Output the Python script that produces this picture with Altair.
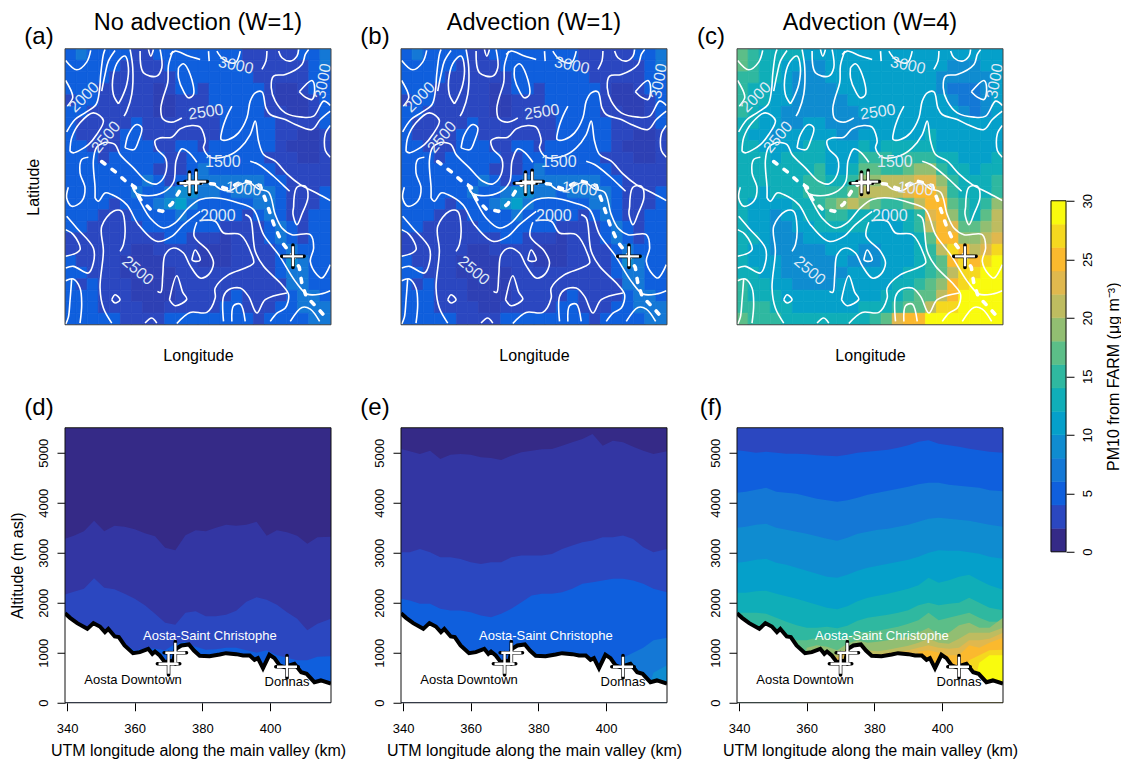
import altair as alt
import pandas as pd

FONT = "Liberation Sans"
TITLES = ["No advection (W=1)", "Advection (W=1)", "Advection (W=4)"]
THR = [1.5, 1.9, 2.5, 4, 6, 8, 10, 12, 14, 16, 18, 20, 22, 24, 26, 28]
COLS = ["#352A87", "#3336A3", "#2E40B4", "#2B47C0", "#0F5FDD", "#1478D6", "#0F8CD0", "#05A0CA", "#0FAEB8",
        "#2FB8A0", "#5CBE88", "#92BE72", "#BEBC60", "#E0B84E", "#FBB92E", "#F5D81F", "#F9FB0E"]
BAR_MID = [1, 3, 5, 7, 9, 11, 13, 15, 17, 19, 21, 23, 25, 27, 29]

GRID_A = [
 [5,7,5,5,5,5,3,3,5,5,5,5,5,5,5,5,3,3,3,3,3,5,5,7],
 [5,5,5,5,5,3,3,3,3,5,5,5,5,5,5,5,3,3,3,3,3,3,5,7],
 [5,5,5,5,3,3,3,3,3,3,5,5,5,5,5,5,5,3,3,3,3,3,5,5],
 [5,5,5,3,3,3,3,3,2,3,5,5,3,5,5,5,5,5,3,2,2,3,5,5],
 [3,5,5,3,3,3,3,3,2,2,3,3,3,5,5,5,5,5,3,2,2,2,3,5],
 [5,5,3,3,3,3,3,3,2,2,3,3,3,3,5,5,5,5,3,3,2,2,3,5],
 [5,3,3,3,3,3,5,3,3,3,3,3,3,3,5,5,5,5,5,3,3,3,3,5],
 [5,3,3,3,3,5,5,3,3,3,3,3,3,3,5,5,5,5,5,3,3,2,2,3],
 [5,5,3,3,3,5,5,5,3,3,5,5,3,5,5,5,5,5,5,3,2,2,2,3],
 [5,5,5,3,5,5,5,5,5,3,3,5,5,5,5,5,5,5,3,3,3,2,2,3],
 [5,5,5,5,5,5,5,5,3,3,3,5,7,5,5,5,5,5,5,3,3,3,3,3],
 [5,5,5,5,5,5,5,7,5,3,5,7,7,7,7,7,7,7,5,5,3,3,3,3],
 [5,5,5,5,5,5,7,5,5,7,9,9,7,7,5,7,7,7,7,5,3,3,3,5],
 [5,5,5,5,3,5,5,5,7,9,11,7,5,5,5,5,5,7,7,5,3,3,3,5],
 [5,5,5,3,3,3,5,5,5,5,7,5,5,5,5,5,3,5,7,5,3,3,5,5],
 [5,5,3,3,3,3,3,5,5,5,5,5,5,5,3,3,3,3,5,7,5,3,5,5],
 [3,3,3,3,3,3,3,3,3,5,5,3,3,3,2,3,3,3,5,7,5,3,5,5],
 [3,3,3,3,3,3,2,2,3,3,3,3,2,2,2,3,3,3,3,5,7,5,5,5],
 [5,3,3,3,3,2,2,2,2,3,3,3,2,2,2,3,3,3,3,5,9,7,5,5],
 [5,5,3,3,3,2,2,2,2,2,3,3,3,3,3,3,3,3,3,5,7,7,5,5],
 [5,3,5,3,3,3,2,2,2,2,3,3,3,3,3,3,3,3,3,3,7,7,5,5],
 [5,5,5,3,3,3,2,2,2,2,3,3,3,3,3,5,3,3,3,3,5,7,7,5],
 [5,5,5,3,3,3,3,2,2,3,3,3,3,3,5,5,3,3,3,5,5,7,7,7],
 [5,5,5,5,5,3,3,3,3,5,5,5,5,5,5,5,5,3,5,5,5,5,7,7],
]
GRID_C = [
 [17,15,13,13,13,12,11,11,11,11,11,11,11,11,11,11,11,11,10,10,10,11,11,11],
 [16,15,13,13,11,10,9,9,10,11,11,11,11,11,11,11,11,10,10,9,9,9,10,11],
 [15,14,13,12,11,9,9,9,10,10,11,11,11,11,11,11,11,10,9,8,8,9,9,10],
 [15,13,12,11,10,9,9,9,9,10,10,10,10,11,11,11,11,11,9,7,7,7,9,10],
 [14,13,12,10,10,9,9,9,9,9,10,10,10,10,11,11,11,11,10,8,7,7,8,10],
 [14,12,11,10,9,9,9,9,9,9,9,10,10,10,11,11,11,11,11,10,8,7,8,10],
 [13,12,10,10,9,9,10,10,9,9,9,9,10,10,11,11,11,11,11,11,10,10,10,11],
 [13,11,10,9,10,11,11,10,10,9,9,10,10,11,11,11,11,12,11,11,11,10,10,11],
 [13,12,11,10,11,11,12,12,10,10,11,12,11,12,12,12,13,12,11,11,11,10,10,11],
 [13,12,12,11,12,12,13,12,11,10,11,14,14,14,13,14,15,14,12,12,11,11,11,12],
 [12,12,12,12,12,13,13,14,11,11,13,16,17,15,15,16,19,18,15,13,12,11,12,13],
 [12,12,12,12,12,13,14,15,12,12,14,19,19,20,20,20,23,23,19,14,13,12,13,14],
 [13,12,11,12,13,13,14,15,15,15,17,20,20,20,20,23,24,25,21,15,13,12,13,15],
 [13,11,11,10,11,12,13,15,17,18,20,19,16,15,15,16,21,25,24,16,14,13,15,18],
 [13,11,10,9,10,11,12,13,14,14,13,13,12,11,12,12,15,23,25,19,14,13,16,20],
 [13,11,10,9,9,10,11,12,12,12,12,12,11,11,11,12,14,20,25,23,16,16,18,21],
 [13,12,10,9,9,9,10,10,10,11,11,10,10,10,11,11,12,16,24,25,19,18,20,23],
 [12,11,10,9,9,9,9,9,10,10,10,9,9,10,10,11,12,15,20,26,24,21,23,26],
 [13,11,11,10,9,9,9,9,9,10,9,9,9,10,11,11,12,14,17,24,26,24,26,28],
 [13,12,11,10,9,9,9,9,9,9,10,10,10,10,11,12,13,15,17,21,26,27,29,30],
 [14,13,12,11,10,9,9,9,9,10,10,10,11,11,12,13,15,16,18,24,26,29,30,30],
 [14,13,13,12,11,10,10,10,10,10,11,11,11,12,13,15,16,17,20,25,29,30,30,30],
 [15,14,14,13,12,11,11,10,11,11,11,12,12,13,15,17,17,20,26,27,30,30,30,30],
 [16,15,15,14,13,12,12,12,12,12,12,13,14,17,23,25,25,28,29,30,30,30,30,30],
]

# map coordinates (arbitrary map units)
MAP_X = [195, 992]
MAP_Y = [972, 145]
CONTOURS = [
 [(197,180),(230,208),(260,185),(272,150)],
 [(200,394),(225,357),(255,337),(288,312),(298,272),(302,222),(310,162),(315,147)],
 [(197,240),(215,275),(218,292),(202,317)],
 [(210,452),(215,412),(240,367),(280,337),(310,360),(290,402),(265,432),(220,457),(210,452)],
 [(355,310),(340,282),(340,222),(355,182),(375,167),(385,202),(380,252),(365,292),(355,310)],
 [(345,150),(325,182),(315,222),(305,272)],
 [(390,147),(398,202),(395,282),(380,332),(372,347)],
 [(420,152),(430,217),(470,227),(485,202),(480,147)],
 [(445,147),(452,167),(460,147)],
 [(375,442),(385,402),(410,372),(425,382),(415,422),(402,447),(375,442)],
 [(518,152),(505,195),(503,245),(488,295),(482,325),(488,355),(515,365),(545,352)],
 [(535,202),(550,190),(570,222),(580,282),(565,292),(550,272),(535,232),(535,202)],
 [(510,162),(525,152),(565,167),(600,177)],
 [(625,152),(627,182)],
 [(650,152),(670,177),(705,187),(720,152)],
 [(800,152),(797,182),(785,207)],
 [(835,152),(845,172),(870,182),(890,167),(895,147)],
 [(925,147),(915,162),(905,192),(855,222),(820,227),(813,262),(825,302),(855,337),(905,350),(940,347),(970,302),(990,315)],
 [(897,274),(935,240),(943,267),(935,297),(915,290),(897,274)],
 [(695,317),(680,347),(665,392),(663,417),(685,417),(715,397),(740,352),(750,302),(765,277),(785,274),(797,322),(810,342),(855,357),(885,372),(935,387),(960,357),(990,332)],
 [(315,425),(345,432),(360,462),(400,502),(440,542),(470,550),(495,522),(497,475),(470,445),(465,420),(480,412),(515,410),(540,385),(575,375),(600,380),(615,422),(610,442),(630,470),(685,465),(720,442),(750,402),(765,362),(775,422),(790,462),(825,482),(860,520),(900,552),(950,578),(990,600)],
 [(750,482),(775,492),(820,527),(850,555),(868,572)],
 [(640,550),(660,565),(690,570),(715,555),(745,545),(775,565),(805,575),(825,642),(845,682),(875,702),(930,702),(940,742),(930,782),(950,822),(965,832),(990,792)],
 [(395,548),(405,575),(435,585),(490,575),(520,545),(528,480),(545,445),(565,455),(590,485)],
 [(285,592),(295,602),(315,577),(335,582),(380,612),(415,672),(470,722),(515,707),(550,672),(600,632)],
 [(395,552),(420,602),(450,652),(490,682),(525,667),(565,622),(600,597),(650,592),(715,607),(760,627),(790,702),(835,762),(885,842),(920,880),(960,880),(990,870)],
 [(735,642),(750,652),(765,752),(790,797),(845,852),(865,882),(855,922),(830,937),(810,962)],
 [(472,872),(482,875),(488,822),(495,762),(520,742),(550,757),(570,795),(600,832),(625,822),(640,787),(625,752),(582,707),(590,665)],
 [(598,660),(645,662),(670,697),(720,702),(755,762),(760,787),(735,802),(685,822),(645,862),(645,892),(620,935),(570,935),(530,968)],
 [(670,962),(670,887),(685,867),(720,862),(745,887),(770,937),(795,897),(860,877)],
 [(695,962),(700,915),(720,910),(735,962)],
 [(870,962),(905,920),(930,925),(958,962)],
 [(880,620),(890,560),(915,557),(923,590),(905,640),(890,672),(878,640),(880,620)],
 [(990,375),(975,400),(975,450),(990,470)],
 [(200,647),(230,682),(280,742),(280,787),(265,817),(220,797),(197,802)],
 [(197,687),(220,702),(240,747),(197,767)],
 [(197,840),(220,835),(240,862),(245,912),(240,967)],
 [(215,835),(210,900),(205,950),(197,970)],
 [(360,752),(370,732),(375,682),(365,632),(340,632),(305,677),(310,752),(300,862),(310,922),(335,967)],
 [(335,897),(345,882),(360,897),(345,907),(335,897)],
 [(508,897),(530,825),(548,875),(560,895),(525,915),(508,897)],
 [(575,778),(585,748),(600,778),(585,782),(575,778)],
 [(435,967),(455,952),(470,967)],
 [(265,470),(245,477),(240,517),(255,562),(245,602),(215,617),(200,592),(205,560)],
 [(315,425),(290,440),(280,480),(285,560),(285,592)],
]
RIVER = [(305,483),(345,513),(375,540),(405,560),(420,595),(450,625),(487,632),(515,610),(545,560),
         (570,545),(640,550),(680,565),(730,540),(780,555),(800,610),(822,675),(845,725),(880,770),
         (897,800),(905,850),(918,888),(950,920),(985,960)]
MAP_STATIONS = [(568,548),(588,543),(878,767)]
MAP_LABELS = [("3000",707,195,12),("3000",968,242,-80),("2000",252,290,-45),("2500",318,410,-50),
              ("2500",617,335,-8),("1500",668,485,0),("1000",730,565,6),("2000",653,645,0),("2500",413,810,40)]

# altitude sections
XS = [339.4,342,345,348,351,354,357,360,363,366,369,372,375,378,381,384,387,390,393,396,399,402,405,408,411,414,418]
TOP = [5500]*27
D_2 = [3280,3340,3430,3640,3430,3540,3520,3470,3390,3330,3100,3050,3350,3450,3430,3500,3560,3540,3560,3620,3340,3450,3410,3340,3180,3310,3320]
D_3 = [2165,2220,2280,2490,2300,2270,2180,2080,1950,1780,1600,1560,1800,1830,1730,1730,1760,1840,2020,2110,2060,1960,1810,1680,1450,1580,1680]
D_5 = [1700,1600,1500,1580,1470,1350,1180,1040,1090,1080,1050,1180,1220,1120,1060,1070,1100,1100,1050,1000,1050,950,900,850,850,920,930]
E_2 = [5075,5028,4975,5041,4875,4961,4975,4961,4908,4895,4855,4942,5008,5041,5068,5075,5142,5208,5275,5375,5142,5242,5209,5122,5041,4975,5028]
E_3 = [3010,3010,3077,3010,2910,2910,2877,2810,2777,2810,2810,2910,2944,2944,2944,2977,3077,3143,3210,3243,3310,3310,3343,3277,3110,3010,3077]
E_5 = [2078,2045,1978,1978,1878,1845,1845,1811,1745,1712,1778,1878,2011,2145,2178,2178,2211,2278,2378,2411,2444,2478,2478,2444,2378,2278,2211]
E_7 = [0,0,0,0,0,0,0,0,0,0,0,0,0,0,0,0,0,0,0,0,0,0,900,1000,1100,1250,1300]
E_9 = [0,0,0,0,0,0,0,0,0,0,0,0,0,0,0,0,0,0,0,0,0,0,0,0,0,600,750]
F_5 = [5050,5030,5000,5020,5000,4980,4980,4970,4950,4940,4930,4960,5000,5020,5040,5060,5100,5150,5220,5250,5180,5150,5120,5080,5050,5020,5000]
F_7 = [4200,4220,4260,4300,4220,4200,4180,4130,4080,4050,4020,4050,4100,4160,4200,4240,4280,4320,4370,4400,4400,4360,4340,4320,4300,4250,4230]
F_9 = [3500,3520,3560,3580,3500,3460,3420,3380,3330,3280,3240,3300,3380,3420,3460,3480,3520,3560,3620,3680,3700,3680,3660,3640,3600,3560,3520]
F_11 = [2800,2820,2860,2880,2800,2760,2700,2640,2580,2520,2500,2560,2640,2700,2740,2780,2820,2860,2920,3000,3050,3040,3040,3010,2980,2920,2880]
F_13 = [2200,2200,2230,2240,2180,2130,2080,2020,1960,1900,1870,1930,2030,2100,2140,2180,2230,2280,2350,2500,2400,2450,2520,2560,2450,2350,2260]
F_15 = [1800,1800,1800,1780,1700,1620,1550,1500,1500,1520,1490,1540,1640,1700,1730,1760,1800,1850,1950,2000,1950,1980,2000,2100,2000,1900,1850]
F_17 = [1700,1600,1500,1580,1480,1380,1250,1250,1300,1300,1250,1300,1400,1420,1440,1480,1520,1580,1650,1800,1650,1700,1750,1800,1700,1620,1620]
F_19 = [0,0,0,0,0,0,0,1100,1150,1120,1050,1180,1250,1200,1220,1250,1280,1320,1400,1500,1350,1400,1550,1600,1500,1500,1700]
F_21 = [0,0,0,0,0,0,0,1000,1080,1000,950,1100,1180,1050,1030,1060,1100,1140,1200,1280,1200,1180,1280,1400,1400,1400,1500]
F_23 = [0,0,0,0,0,0,0,0,1050,980,900,1050,1130,980,960,1000,1020,1050,1100,1150,1100,1080,1100,1250,1250,1280,1400]
F_25 = [0,0,0,0,0,0,0,0,0,0,0,0,0,0,0,0,0,0,1020,1050,1000,950,950,1150,1100,1200,1300]
F_27 = [0,0,0,0,0,0,0,0,0,0,0,0,0,0,0,0,0,0,0,0,0,0,0,850,950,1050,1060]
F_29 = [0,0,0,0,0,0,0,0,0,0,0,0,0,0,0,0,0,0,0,0,0,0,0,0,800,950,950]
SECTIONS = [
 [(1,TOP),(1.7,D_2),(3,D_3),(5,D_5)],
 [(1,TOP),(1.7,E_2),(3,E_3),(5,E_5),(7,E_7),(9,E_9)],
 [(3,TOP),(5,F_5),(7,F_7),(9,F_9),(11,F_11),(13,F_13),(15,F_15),(17,F_17),(19,F_19),(21,F_21),(23,F_23),(25,F_25),(27,F_27),(29,F_29)],
]
TERRAIN_X = [339.4,340.9,343,346,347.8,349.7,351.2,352.2,354.1,355.3,357,359.5,361.5,364,365.2,366,367.4,368.9,371.4,372.2,373.8,376,377.5,379.2,382.1,385.1,387,390,392,394,395.4,396.4,397.9,399.8,401.3,402.8,404.2,405.7,407.2,409.2,410.8,413.1,415,418]
TERRAIN_Z = [1790,1698,1592,1478,1592,1525,1412,1478,1325,1312,1145,992,1012,1079,979,1025,945,812,845,1079,1145,1165,1045,939,932,965,992,972,945,945,859,892,692,959,892,746,712,746,779,612,579,412,446,385]
SEC_STATIONS = [(370,780),(372,1000),(405,720)]
SEC_LABELS = [("Aosta-Saint Christophe",382.2,1344,"white"),("Aosta Downtown",359.5,465,"black"),("Donnas",405,410,"black")]
BAR_TICKS = [0,5,10,15,20,25,30]

W, HT, HB = 266, 276, 275
PLUS = "M-1,0L1,0M0,-1L0,1"
cscale = alt.Scale(type="threshold", domain=THR, range=COLS)
color = alt.Color("v:Q", scale=cscale, legend=None)
stroke = alt.Stroke("v:Q", scale=cscale, legend=None)
AT = dict(titleFontSize=16, titleColor="black", titleFont=FONT, titleFontWeight="normal", grid=False)


def box(col, h):
    return alt.Chart(pd.DataFrame({"a": [0]})).mark_rect(filled=False, stroke=col, strokeWidth=1).encode(
        x=alt.value(0), x2=alt.value(W), y=alt.value(0), y2=alt.value(h))


def heading(title, letter, h):
    parts = []
    if title:
        parts.append(alt.Chart(pd.DataFrame({"t": [title]})).mark_text(fontSize=23.5, font=FONT, color="black").encode(
            text="t:N", x=alt.value(W/2), y=alt.value(-25.5)))
    parts.append(alt.Chart(pd.DataFrame({"t": [letter]})).mark_text(fontSize=24, font=FONT, color="black").encode(
        text="t:N", x=alt.value(-26), y=alt.value(h)))
    return parts


def cross(df, x, y):
    return [
        alt.Chart(df).mark_point(shape=PLUS, size=500, stroke="black", strokeWidth=3.6, filled=False, opacity=1, strokeCap="round").encode(x=x, y=y),
        alt.Chart(df).mark_point(shape=PLUS, size=400, stroke="white", strokeWidth=2.4, filled=False, opacity=1).encode(x=x, y=y),
    ]


def map_panel(i, grid, letter, show_lat):
    nr, nc = len(grid), len(grid[0])
    dx = (MAP_X[1]-MAP_X[0])/nc
    dy = (MAP_Y[0]-MAP_Y[1])/nr
    cells = [{"x0": MAP_X[0]+c*dx, "x1": MAP_X[0]+(c+1)*dx, "y0": MAP_Y[1]+r*dy, "y1": MAP_Y[1]+(r+1)*dy, "v": grid[r][c]}
             for r in range(nr) for c in range(nc)]
    sx = alt.Scale(domain=MAP_X, nice=False, zero=False)
    sy = alt.Scale(domain=MAP_Y, nice=False, zero=False)
    xax = alt.Axis(title="Longitude", labels=False, ticks=False, domain=False, titlePadding=23, **AT)
    yax = alt.Axis(title="Latitude" if show_lat else None, labels=False, ticks=False, domain=False, titlePadding=24, **AT)
    heat = alt.Chart(pd.DataFrame(cells)).mark_rect(strokeWidth=0.7, clip=True).encode(
        x=alt.X("x0:Q", scale=sx, axis=xax), x2="x1:Q",
        y=alt.Y("y0:Q", scale=sy, axis=yax), y2="y1:Q", color=color, stroke=stroke)
    rows = [{"x": p[0], "y": p[1], "id": k, "o": j} for k, poly in enumerate(CONTOURS) for j, p in enumerate(poly)]
    X = alt.X("x:Q", scale=sx, axis=xax)
    Y = alt.Y("y:Q", scale=sy, axis=yax)
    lines = alt.Chart(pd.DataFrame(rows)).mark_line(color="white", strokeWidth=1.6, clip=True, interpolate="catmull-rom").encode(
        x=X, y=Y, detail="id:N", order="o:Q")
    river = alt.Chart(pd.DataFrame({"x": [p[0] for p in RIVER], "y": [p[1] for p in RIVER], "o": list(range(len(RIVER)))})).mark_line(
        color="white", strokeWidth=3.6, strokeDash=[4, 9], strokeCap="round", clip=True).encode(x=X, y=Y, order="o:Q")
    labs = [alt.Chart(pd.DataFrame({"x": [l[1]], "y": [l[2]], "t": [l[0]]})).mark_text(
        fontSize=16, font=FONT, color="#dfe9f5", angle=(l[3]+360) % 360).encode(x=X, y=Y, text="t:N") for l in MAP_LABELS]
    st = cross(pd.DataFrame({"x": [s[0] for s in MAP_STATIONS], "y": [s[1] for s in MAP_STATIONS]}), X, Y)
    return alt.layer(heat, lines, river, *labs, *st, box("#444444", HT), *heading(TITLES[i], letter, -12)).properties(width=W, height=HT)


def section_panel(i, levels, letter):
    sx = alt.Scale(domain=[339.4, 418], nice=False, zero=False)
    sy = alt.Scale(domain=[0, 5500], nice=False)
    xax = alt.Axis(values=[340, 360, 380, 400], format="d", title="UTM longitude along the main valley (km)", domain=False,
                   tickSize=8, tickColor="black", labelFontSize=13, labelColor="black", labelFont=FONT, labelPadding=12,
                   titlePadding=7, **AT)
    yax = alt.Axis(values=[0, 1000, 2000, 3000, 4000, 5000], format="d", title="Altitude (m asl)" if i == 0 else None, domain=False, tickSize=8,
                   tickColor="black", labelFontSize=13, labelColor="black", labelFont=FONT, labelAngle=270, labelAlign="center", labelBaseline="bottom", labelPadding=7,
                   titlePadding=12, **AT)
    X = alt.X("x:Q", scale=sx, axis=xax)
    Y = alt.Y("t:Q", scale=sy, axis=yax, stack=None)
    layers = []
    for v, tops in levels:
        d = pd.DataFrame({"x": XS, "t": tops, "v": [v]*len(XS)})
        layers.append(alt.Chart(d).mark_area(clip=True, strokeWidth=0).encode(x=X, y=Y, color=color))
    ter = pd.DataFrame({"x": TERRAIN_X, "t": TERRAIN_Z})
    layers.append(alt.Chart(ter).mark_area(color="white", clip=True).encode(x=X, y=Y))
    layers.append(alt.Chart(ter).mark_line(color="black", strokeWidth=4, clip=True).encode(x=X, y=Y))
    layers += cross(pd.DataFrame({"x": [s[0] for s in SEC_STATIONS], "t": [s[1] for s in SEC_STATIONS]}), X, Y)
    for t, lx, ly, col in SEC_LABELS:
        layers.append(alt.Chart(pd.DataFrame({"x": [lx], "t": [ly], "s": [t]})).mark_text(fontSize=13, font=FONT, color=col).encode(x=X, y=Y, text="s:N"))
    layers.append(box("#111111", HB))
    layers += heading(None, letter, -20)
    return alt.layer(*layers).properties(width=W, height=HB)


def colorbar():
    d = pd.DataFrame({"a": [0]*15, "b": [1]*15, "lo": [m-1 for m in BAR_MID], "hi": [m+1 for m in BAR_MID], "v": BAR_MID})
    sx = alt.Scale(domain=[0, 1], range=[314, 329], nice=False, zero=False)
    sy = alt.Scale(domain=[0, 30], range=[503, 152], nice=False, zero=False)
    ax = alt.Axis(values=BAR_TICKS, orient="right", offset=63, domain=False, tickSize=8, tickColor="black",
                  labelFontSize=13, labelColor="black", labelFont=FONT, labelAngle=270, labelAlign="center", labelBaseline="top", labelPadding=7,
                  title="PM10 from FARM (\u03bcg m\u207b\u00b3)", titlePadding=11, titleAngle=270, titleBaseline="top", **AT)
    bars = alt.Chart(d).mark_rect(strokeWidth=0.5).encode(
        x=alt.X("a:Q", scale=sx, axis=None), x2="b:Q",
        y=alt.Y("lo:Q", scale=sy, axis=ax), y2="hi:Q", color=color, stroke=stroke)
    outline = alt.Chart(pd.DataFrame({"a": [0], "b": [1], "lo": [0], "hi": [30]})).mark_rect(filled=False, stroke="#111111", strokeWidth=1).encode(
        x=alt.X("a:Q", scale=sx, axis=None), x2="b:Q", y=alt.Y("lo:Q", scale=sy, axis=ax), y2="hi:Q")
    return alt.layer(bars, outline)


pa = map_panel(0, GRID_A, "(a)", True)
pb = map_panel(1, GRID_A, "(b)", False)
pc = alt.layer(map_panel(2, GRID_C, "(c)", False), colorbar()).resolve_scale(x="independent", y="independent").properties(width=W, height=HT)
pd_ = section_panel(0, SECTIONS[0], "(d)")
pe = section_panel(1, SECTIONS[1], "(e)")
pf = section_panel(2, SECTIONS[2], "(f)")

chart = alt.concat(pa, pb, pc, pd_, pe, pf, columns=3, spacing={"column": 70, "row": 103}, bounds="flush").properties(
    padding={"left": 0, "top": 2.75, "right": 0, "bottom": 0}
).configure_view(stroke=None).configure_axis(labelFlush=False)

chart.save("out.html", embed_options={"renderer": "svg", "actions": False})
